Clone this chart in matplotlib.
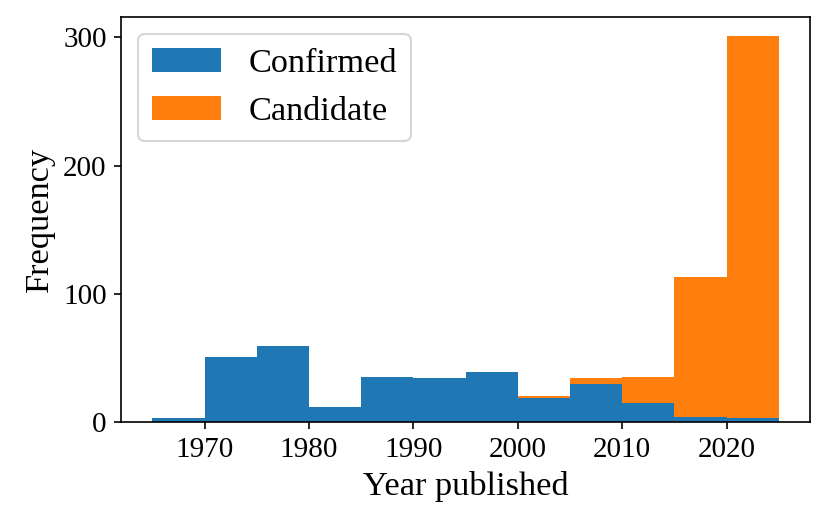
import numpy as np
import matplotlib
matplotlib.use("Agg")
import matplotlib.pyplot as plt

plt.rcParams["font.family"] = ["Liberation Serif", "DejaVu Serif"]

# 5-year bins, left edges
bin_edges = [1965, 1970, 1975, 1980, 1985, 1990, 1995, 2000, 2005, 2010, 2015, 2020, 2025]
confirmed = [3, 51, 59, 12, 35, 34, 39, 19, 30, 15, 4, 3]
candidate = [0, 0, 0, 0, 0, 0, 0, 1, 4, 20, 109, 298]

centers = [(a + b) / 2 for a, b in zip(bin_edges[:-1], bin_edges[1:])]

fig, ax = plt.subplots(figsize=(830 / 150, 525 / 150), dpi=150)
ax.hist([centers, centers], bins=bin_edges, weights=[confirmed, candidate],
        stacked=True, label=["Confirmed", "Candidate"],
        color=["#1f77b4", "#ff7f0e"])

ax.set_xlabel("Year published", fontsize=16.5)
ax.set_ylabel("Frequency", fontsize=16.5)
ax.set_xticks([1970, 1980, 1990, 2000, 2010, 2020])
ax.set_yticks([0, 100, 200, 300])
ax.tick_params(labelsize=14)
ax.legend(loc="upper left", fontsize=16.5)

fig.subplots_adjust(left=0.146, right=0.976, top=0.968, bottom=0.196)
fig.savefig("out.png")
